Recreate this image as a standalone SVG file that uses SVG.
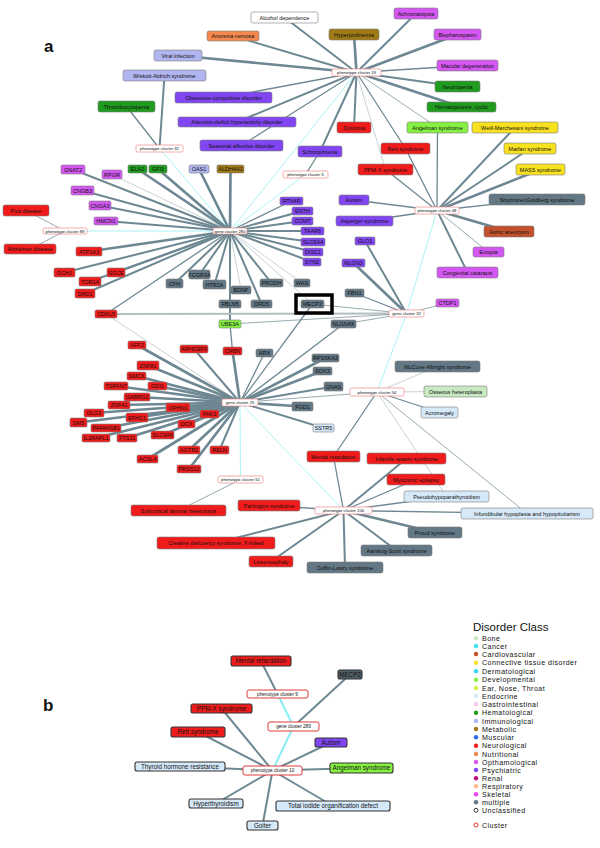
<svg xmlns="http://www.w3.org/2000/svg" width="600" height="848" viewBox="0 0 600 848">
<style>
text{font-family:"Liberation Sans",Arial,sans-serif;fill:#111}
.n rect{stroke:#7c7c7c;stroke-width:0.6}
.n text{font-size:5.5px;text-anchor:middle}
.k rect{fill:#fff;stroke:#ee8a8a;stroke-width:0.7}
.k text{font-size:4.2px;text-anchor:middle}
.b rect{stroke:#333;stroke-width:1.1}
.b text{font-size:6.3px;text-anchor:middle}
.bk rect{fill:#fff;stroke:#e03a3a;stroke-width:1}
.bk text{font-size:4.7px;text-anchor:middle}
.e{stroke:#6e8893;fill:none}
.l{stroke:#b2bec2;fill:none}
.c{stroke:#86eef2;fill:none}
.w1{stroke-width:0.7}.w2{stroke-width:1.3}.w3{stroke-width:2}.w4{stroke-width:2.7}
.neu{fill:#f01c1c}.psy{fill:#8146f2}.oph{fill:#d457f2}.hem{fill:#1f9c1f}.imm{fill:#b1b5f0}
.met{fill:#a07a15}.mul{fill:#637785}.dev{fill:#86f042}.con{fill:#f8e11e}.car{fill:#c4512d}
.nut{fill:#f4894f}.bon{fill:#cae9c2}.end{fill:#d6e9f8}.unc{fill:#fff}
.lg text{font-size:7.1px;letter-spacing:0.45px}
</style>
<rect width="600" height="848" fill="#fff"/>
<text x="44" y="52" style="font-size:17px;font-weight:bold">a</text>
<text x="43" y="711" style="font-size:17px;font-weight:bold">b</text>

<g id="connectors">
<line class="c w1" x1="356.5" y1="72.5" x2="230" y2="231"/>
<line class="c w1" x1="159.5" y1="148.5" x2="230" y2="231"/>
<line class="c w1" x1="65" y1="231" x2="230" y2="231"/>
<line class="c w1" x1="305.5" y1="174.5" x2="230" y2="231"/>
<line class="c w1" x1="437" y1="210.5" x2="406.5" y2="313.5"/>
<line class="c w1" x1="406.5" y1="313.5" x2="377" y2="392"/>
<line class="c w1" x1="240" y1="402.5" x2="240.5" y2="479.5"/>
<line class="c w1" x1="240" y1="402.5" x2="343.5" y2="510.5"/>
<line class="e w3" x1="356.5" y1="72.5" x2="284.5" y2="17.5"/>
<line class="e w3" x1="356.5" y1="72.5" x2="233" y2="36"/>
<line class="e w4" x1="356.5" y1="72.5" x2="178" y2="55.5"/>
<line class="e w2" x1="356.5" y1="72.5" x2="223.5" y2="97.5"/>
<line class="e w3" x1="356.5" y1="72.5" x2="237" y2="122"/>
<line class="e w2" x1="356.5" y1="72.5" x2="241.5" y2="145.5"/>
<line class="e w3" x1="356.5" y1="72.5" x2="416" y2="13.5"/>
<line class="e w4" x1="356.5" y1="72.5" x2="354" y2="34.5"/>
<line class="e w4" x1="356.5" y1="72.5" x2="457.5" y2="34.5"/>
<line class="e w2" x1="356.5" y1="72.5" x2="467.5" y2="65.5"/>
<line class="e w3" x1="356.5" y1="72.5" x2="457.5" y2="86.5"/>
<line class="e w4" x1="356.5" y1="72.5" x2="461.5" y2="107"/>
<line class="e w3" x1="356.5" y1="72.5" x2="354" y2="127.5"/>
<line class="e w1" x1="356.5" y1="72.5" x2="437.5" y2="127.5"/>
<line class="e w2" x1="356.5" y1="72.5" x2="405.5" y2="148.5"/>
<line class="l w1" x1="356.5" y1="72.5" x2="385.5" y2="169.5"/>
<line class="e w3" x1="356.5" y1="72.5" x2="320" y2="151.5"/>
<line class="e w3" x1="159.5" y1="148.5" x2="164.5" y2="75.5"/>
<line class="e w2" x1="159.5" y1="148.5" x2="126.5" y2="106.5"/>
<line class="e w1" x1="65" y1="231" x2="26" y2="210.5"/>
<line class="e w1" x1="65" y1="231" x2="30" y2="249"/>
<line class="e w2" x1="305.5" y1="174.5" x2="320" y2="151.5"/>
<line class="e w2" x1="437" y1="210.5" x2="405.5" y2="148.5"/>
<line class="e w2" x1="437" y1="210.5" x2="437.5" y2="127.5"/>
<line class="e w3" x1="437" y1="210.5" x2="515" y2="127.5"/>
<line class="e w3" x1="437" y1="210.5" x2="530" y2="148.5"/>
<line class="e w4" x1="437" y1="210.5" x2="540.5" y2="169.5"/>
<line class="e w2" x1="437" y1="210.5" x2="537" y2="199.5"/>
<line class="e w4" x1="437" y1="210.5" x2="509" y2="231.5"/>
<line class="e w1" x1="437" y1="210.5" x2="488.5" y2="252"/>
<line class="e w3" x1="437" y1="210.5" x2="467.5" y2="272.5"/>
<line class="e w2" x1="437" y1="210.5" x2="354" y2="200"/>
<line class="e w2" x1="437" y1="210.5" x2="364.5" y2="221"/>
<line class="e w2" x1="437" y1="210.5" x2="385.5" y2="169.5"/>
<line class="e w3" x1="230" y1="231" x2="73" y2="169.5"/>
<line class="l w1" x1="230" y1="231" x2="112" y2="174.5"/>
<line class="e w4" x1="230" y1="231" x2="137.5" y2="169"/>
<line class="e w4" x1="230" y1="231" x2="158" y2="169"/>
<line class="e w4" x1="230" y1="231" x2="199" y2="169"/>
<line class="e w4" x1="230" y1="231" x2="230.5" y2="169"/>
<line class="e w3" x1="230" y1="231" x2="82.5" y2="190.5"/>
<line class="e w3" x1="230" y1="231" x2="100" y2="205.5"/>
<line class="e w3" x1="230" y1="231" x2="106" y2="221"/>
<line class="e w4" x1="230" y1="231" x2="89" y2="251.5"/>
<line class="e w3" x1="230" y1="231" x2="64.5" y2="272.5"/>
<line class="e w3" x1="230" y1="231" x2="116" y2="272.5"/>
<line class="e w3" x1="230" y1="231" x2="90" y2="281.5"/>
<line class="e w3" x1="230" y1="231" x2="85" y2="293.5"/>
<line class="e w2" x1="230" y1="231" x2="106" y2="314"/>
<line class="e w3" x1="230" y1="231" x2="199.5" y2="274.5"/>
<line class="e w3" x1="230" y1="231" x2="174.5" y2="283.5"/>
<line class="e w3" x1="230" y1="231" x2="214.5" y2="284.5"/>
<line class="l w1" x1="230" y1="231" x2="241" y2="290"/>
<line class="e w3" x1="230" y1="231" x2="271.5" y2="283"/>
<line class="l w1" x1="230" y1="231" x2="302" y2="283"/>
<line class="e w3" x1="230" y1="231" x2="230" y2="324"/>
<line class="e w3" x1="230" y1="231" x2="261.5" y2="304"/>
<line class="l w1" x1="230" y1="231" x2="312.5" y2="304"/>
<line class="e w2" x1="230" y1="231" x2="291.5" y2="201"/>
<line class="e w3" x1="230" y1="231" x2="302.5" y2="211"/>
<line class="e w3" x1="230" y1="231" x2="302.5" y2="221"/>
<line class="e w3" x1="230" y1="231" x2="312.5" y2="231"/>
<line class="e w3" x1="230" y1="231" x2="313" y2="242"/>
<line class="e w3" x1="230" y1="231" x2="313" y2="252"/>
<line class="e w3" x1="230" y1="231" x2="312" y2="262"/>
<line class="l w3" x1="106" y1="314" x2="406.5" y2="313.5"/>
<line class="e w3" x1="406.5" y1="313.5" x2="365" y2="241"/>
<line class="e w4" x1="406.5" y1="313.5" x2="353.5" y2="263"/>
<line class="e w2" x1="406.5" y1="313.5" x2="354.5" y2="293"/>
<line class="e w1" x1="406.5" y1="313.5" x2="312.5" y2="304"/>
<line class="e w1" x1="406.5" y1="313.5" x2="230" y2="324"/>
<line class="e w1" x1="406.5" y1="313.5" x2="447.5" y2="303"/>
<line class="e w1" x1="406.5" y1="313.5" x2="343.5" y2="324"/>
<line class="e w2" x1="230" y1="324" x2="232.5" y2="351"/>
<line class="l w1" x1="106" y1="314" x2="240" y2="402.5"/>
<line class="e w4" x1="240" y1="402.5" x2="137" y2="345"/>
<line class="e w3" x1="240" y1="402.5" x2="194" y2="349"/>
<line class="e w4" x1="240" y1="402.5" x2="232.5" y2="351"/>
<line class="e w2" x1="240" y1="402.5" x2="264.5" y2="353"/>
<line class="e w4" x1="240" y1="402.5" x2="148" y2="365.5"/>
<line class="e w4" x1="240" y1="402.5" x2="136.5" y2="376"/>
<line class="e w4" x1="240" y1="402.5" x2="116" y2="386"/>
<line class="e w4" x1="240" y1="402.5" x2="157.5" y2="386"/>
<line class="e w4" x1="240" y1="402.5" x2="137" y2="397"/>
<line class="e w4" x1="240" y1="402.5" x2="119" y2="405"/>
<line class="e w4" x1="240" y1="402.5" x2="178" y2="407.5"/>
<line class="e w4" x1="240" y1="402.5" x2="94" y2="413"/>
<line class="e w4" x1="240" y1="402.5" x2="137" y2="417.5"/>
<line class="e w4" x1="240" y1="402.5" x2="209.5" y2="414"/>
<line class="e w4" x1="240" y1="402.5" x2="78.5" y2="422.5"/>
<line class="e w4" x1="240" y1="402.5" x2="106" y2="428"/>
<line class="e w4" x1="240" y1="402.5" x2="186.5" y2="424"/>
<line class="e w4" x1="240" y1="402.5" x2="96" y2="438"/>
<line class="e w4" x1="240" y1="402.5" x2="127" y2="438"/>
<line class="e w4" x1="240" y1="402.5" x2="162.5" y2="435"/>
<line class="e w4" x1="240" y1="402.5" x2="189" y2="450"/>
<line class="e w3" x1="240" y1="402.5" x2="219.5" y2="450"/>
<line class="e w4" x1="240" y1="402.5" x2="147.5" y2="459"/>
<line class="e w4" x1="240" y1="402.5" x2="189" y2="469"/>
<line class="e w4" x1="240" y1="402.5" x2="325.5" y2="358"/>
<line class="e w4" x1="240" y1="402.5" x2="322.5" y2="371"/>
<line class="e w3" x1="240" y1="402.5" x2="333.5" y2="386.5"/>
<line class="e w4" x1="240" y1="402.5" x2="302.5" y2="406.5"/>
<line class="e w3" x1="240" y1="402.5" x2="323.5" y2="428"/>
<line class="e w2" x1="240" y1="402.5" x2="312.5" y2="304"/>
<line class="e w2" x1="240" y1="402.5" x2="343.5" y2="324"/>
<line class="e w1" x1="240" y1="402.5" x2="377" y2="392"/>
<line class="l w1" x1="377" y1="392" x2="437.5" y2="366.5"/>
<line class="l w1" x1="377" y1="392" x2="455.5" y2="391.5"/>
<line class="e w2" x1="377" y1="392" x2="439.5" y2="412.5"/>
<line class="e w2" x1="377" y1="392" x2="333.5" y2="456.5"/>
<line class="l w1" x1="377" y1="392" x2="446.5" y2="496.5"/>
<line class="e w1" x1="377" y1="392" x2="527" y2="513.5"/>
<line class="e w2" x1="343.5" y1="510.5" x2="333.5" y2="456.5"/>
<line class="e w3" x1="343.5" y1="510.5" x2="406.5" y2="458.5"/>
<line class="e w2" x1="343.5" y1="510.5" x2="416" y2="479.5"/>
<line class="e w2" x1="343.5" y1="510.5" x2="446.5" y2="496.5"/>
<line class="e w2" x1="343.5" y1="510.5" x2="527" y2="513.5"/>
<line class="e w4" x1="343.5" y1="510.5" x2="435" y2="532.5"/>
<line class="e w3" x1="343.5" y1="510.5" x2="396.5" y2="550.5"/>
<line class="e w3" x1="343.5" y1="510.5" x2="345" y2="567.5"/>
<line class="e w3" x1="343.5" y1="510.5" x2="271" y2="561.5"/>
<line class="e w3" x1="343.5" y1="510.5" x2="216" y2="543"/>
<line class="e w2" x1="343.5" y1="510.5" x2="269" y2="505.5"/>
<line class="e w1" x1="240.5" y1="479.5" x2="178.5" y2="510.5"/>
<line class="e w3" x1="261" y1="661" x2="277.5" y2="694"/>
<line class="c w3" x1="277.5" y1="694" x2="293.5" y2="726.5"/>
<line class="e w3" x1="350" y1="674.5" x2="293.5" y2="726.5"/>
<line class="c w3" x1="293.5" y1="726.5" x2="272.5" y2="770.5"/>
<line class="e w3" x1="272.5" y1="770.5" x2="221.5" y2="708.5"/>
<line class="e w3" x1="272.5" y1="770.5" x2="198" y2="732"/>
<line class="e w3" x1="272.5" y1="770.5" x2="331" y2="742.5"/>
<line class="e w3" x1="272.5" y1="770.5" x2="180" y2="766.5"/>
<line class="e w3" x1="272.5" y1="770.5" x2="361.5" y2="768"/>
<line class="e w3" x1="272.5" y1="770.5" x2="216" y2="803.5"/>
<line class="e w3" x1="272.5" y1="770.5" x2="333" y2="806"/>
<line class="e w3" x1="272.5" y1="770.5" x2="262.5" y2="825.5"/>
</g>

<g id="n-alcohol" class="n"><rect class="unc" x="251" y="12" width="67" height="11" rx="2"/><text x="284.5" y="19.5">Alcohol dependence</text></g>
<g id="n-anorexia" class="n"><rect class="nut" x="207" y="31" width="52" height="10" rx="2"/><text x="233" y="38">Anorexia nervosa</text></g>
<g id="n-viral" class="n"><rect class="imm" x="154" y="50" width="48" height="11" rx="2"/><text x="178" y="57.5">Viral infection</text></g>
<g id="n-wiskott" class="n"><rect class="imm" x="123" y="70" width="83" height="11" rx="2"/><text x="164.5" y="77.5">Wiskott-Aldrich syndrome</text></g>
<g id="n-thrombo" class="n"><rect class="hem" x="98" y="101" width="57" height="11" rx="2"/><text x="126.5" y="108.5">Thrombocytopenia</text></g>
<g id="n-ocd" class="n"><rect class="psy" x="175" y="92" width="97" height="11" rx="2"/><text x="223.5" y="99.5">Obsessive-compulsive disorder</text></g>
<g id="n-adhd" class="n"><rect class="psy" x="178" y="117" width="118" height="10" rx="2"/><text x="237" y="124">Attention-deficit hyperactivity disorder</text></g>
<g id="n-sad" class="n"><rect class="psy" x="200" y="140" width="83" height="11" rx="2"/><text x="241.5" y="147.5">Seasonal affective disorder</text></g>
<g id="n-achro" class="n"><rect class="oph" x="394" y="8" width="44" height="11" rx="2"/><text x="416" y="15.5">Achromatopsia</text></g>
<g id="n-hyperpro" class="n"><rect class="met" x="329" y="29" width="50" height="11" rx="2"/><text x="354" y="36.5">Hyperprolinemia</text></g>
<g id="n-bleph" class="n"><rect class="oph" x="434" y="29" width="47" height="11" rx="2"/><text x="457.5" y="36.5">Blepharospasm</text></g>
<g id="n-macular" class="n"><rect class="oph" x="437" y="60" width="61" height="11" rx="2"/><text x="467.5" y="67.5">Macular degeneration</text></g>
<g id="n-neutro" class="n"><rect class="hem" x="435" y="81" width="45" height="11" rx="2"/><text x="457.5" y="88.5">Neutropenia</text></g>
<g id="n-hemato" class="n"><rect class="hem" x="427" y="102" width="69" height="10" rx="2"/><text x="461.5" y="109">Hematopoiesis, cyclic</text></g>
<g id="n-dystonia" class="n"><rect class="neu" x="337" y="122" width="34" height="11" rx="2"/><text x="354" y="129.5">Dystonia</text></g>
<g id="n-angelman" class="n"><rect class="dev" x="407" y="122" width="61" height="11" rx="2"/><text x="437.5" y="129.5">Angelman syndrome</text></g>
<g id="n-weill" class="n"><rect class="con" x="472" y="122" width="86" height="11" rx="2"/><text x="515" y="129.5">Weill-Marchesani syndrome</text></g>
<g id="n-rett" class="n"><rect class="neu" x="381" y="143" width="49" height="11" rx="2"/><text x="405.5" y="150.5">Rett syndrome</text></g>
<g id="n-marfan" class="n"><rect class="con" x="504" y="143" width="52" height="11" rx="2"/><text x="530" y="150.5">Marfan syndrome</text></g>
<g id="n-schizo" class="n"><rect class="psy" x="298" y="146" width="44" height="11" rx="2"/><text x="320" y="153.5">Schizophrenia</text></g>
<g id="n-ppmx" class="n"><rect class="neu" x="358" y="164" width="55" height="11" rx="2"/><text x="385.5" y="171.5">PPM-X syndrome</text></g>
<g id="n-mass" class="n"><rect class="con" x="516" y="164" width="49" height="11" rx="2"/><text x="540.5" y="171.5">MASS syndrome</text></g>
<g id="n-autism" class="n"><rect class="psy" x="339" y="195" width="30" height="10" rx="2"/><text x="354" y="202">Autism</text></g>
<g id="n-asperger" class="n"><rect class="psy" x="336" y="216" width="57" height="10" rx="2"/><text x="364.5" y="223">Asperger syndrome</text></g>
<g id="n-shprintzen" class="n"><rect class="mul" x="489" y="194" width="96" height="11" rx="2"/><text x="537" y="201.5">ShprintzenGoldberg syndrome</text></g>
<g id="n-aortic" class="n"><rect class="car" x="484" y="226" width="50" height="11" rx="2"/><text x="509" y="233.5">Aortic aneurysm</text></g>
<g id="n-ectopia" class="n"><rect class="oph" x="473" y="247" width="31" height="10" rx="2"/><text x="488.5" y="254">Ectopia</text></g>
<g id="n-cataracts" class="n"><rect class="oph" x="437" y="267" width="61" height="11" rx="2"/><text x="467.5" y="274.5">Congenital cataracts</text></g>
<g id="n-pick" class="n"><rect class="neu" x="3" y="205" width="46" height="11" rx="2"/><text x="26" y="212.5">Pick disease</text></g>
<g id="n-alzheimer" class="n"><rect class="neu" x="4" y="244" width="52" height="10" rx="2"/><text x="30" y="251">Alzheimer disease</text></g>
<g id="n-mccune" class="n"><rect class="mul" x="395" y="361" width="85" height="11" rx="2"/><text x="437.5" y="368.5">McCune-Albright syndrome</text></g>
<g id="n-osseous" class="n"><rect class="bon" x="424" y="386" width="63" height="11" rx="2"/><text x="455.5" y="393.5">Osseous heteroplasia</text></g>
<g id="n-acromegaly" class="n"><rect class="end" x="421" y="407" width="37" height="11" rx="2"/><text x="439.5" y="414.5">Acromegaly</text></g>
<g id="n-mr" class="n"><rect class="neu" x="307" y="451" width="53" height="11" rx="2"/><text x="333.5" y="458.5">Mental retardation</text></g>
<g id="n-infantile" class="n"><rect class="neu" x="367" y="453" width="79" height="11" rx="2"/><text x="406.5" y="460.5">Infantile spasm syndrome</text></g>
<g id="n-myoclonic" class="n"><rect class="neu" x="387" y="474" width="58" height="11" rx="2"/><text x="416" y="481.5">Myoclonic epilepsy</text></g>
<g id="n-pseudo" class="n"><rect class="end" x="404" y="491" width="85" height="11" rx="2"/><text x="446.5" y="498.5">Pseudohypoparathyroidism</text></g>
<g id="n-infund" class="n"><rect class="end" x="461" y="508" width="132" height="11" rx="2"/><text x="527" y="515.5">Infundibular hypoplasia and hypopituitarism</text></g>
<g id="n-proud" class="n"><rect class="mul" x="408" y="527" width="54" height="11" rx="2"/><text x="435" y="534.5">Proud syndrome</text></g>
<g id="n-aarskog" class="n"><rect class="mul" x="361" y="545" width="71" height="11" rx="2"/><text x="396.5" y="552.5">Aarskog-Scott syndrome</text></g>
<g id="n-coffin" class="n"><rect class="mul" x="307" y="562" width="76" height="11" rx="2"/><text x="345" y="569.5">Coffin-Lowry syndrome</text></g>
<g id="n-subcortical" class="n"><rect class="neu" x="131" y="505" width="95" height="11" rx="2"/><text x="178.5" y="512.5">Subcortical laminar heterotopia</text></g>
<g id="n-partington" class="n"><rect class="neu" x="238" y="500" width="62" height="11" rx="2"/><text x="269" y="507.5">Partington syndrome</text></g>
<g id="n-creatine" class="n"><rect class="neu" x="157" y="537" width="118" height="12" rx="2"/><text x="216" y="545">Creatine deficiency syndrome, X-linked</text></g>
<g id="n-lissen" class="n"><rect class="neu" x="249" y="556" width="44" height="11" rx="2"/><text x="271" y="563.5">Lissencephaly</text></g>

<g id="pc19" class="k"><rect x="332" y="69" width="49" height="7" rx="1.5"/><text x="356.5" y="74">phenotype cluster 19</text></g>
<g id="pc32" class="k"><rect x="136" y="145" width="47" height="7" rx="1.5"/><text x="159.5" y="150">phenotype cluster 32</text></g>
<g id="pc5" class="k"><rect x="283" y="171" width="45" height="7" rx="1.5"/><text x="305.5" y="176">phenotype cluster 5</text></g>
<g id="pc48" class="k"><rect x="415" y="207" width="44" height="7" rx="1.5"/><text x="437" y="212">phenotype cluster 48</text></g>
<g id="pc89" class="k"><rect x="43" y="228" width="44" height="6" rx="1.5"/><text x="65" y="232.5">phenotype cluster 89</text></g>
<g id="gc280" class="k"><rect x="213" y="228" width="34" height="6" rx="1.5"/><text x="230" y="232.5">gene cluster 280</text></g>
<g id="gc32" class="k"><rect x="389" y="310" width="35" height="7" rx="1.5"/><text x="406.5" y="315">gene cluster 32</text></g>
<g id="gc25" class="k"><rect x="222" y="399" width="36" height="7" rx="1.5"/><text x="240" y="404">gene cluster 25</text></g>
<g id="pc54" class="k"><rect x="350" y="388" width="54" height="8" rx="1.5"/><text x="377" y="393.5">phenotype cluster 54</text></g>
<g id="pc51" class="k"><rect x="218" y="476" width="45" height="7" rx="1.5"/><text x="240.5" y="481">phenotype cluster 51</text></g>
<g id="pc106" class="k"><rect x="315" y="507" width="57" height="7" rx="1.5"/><text x="343.5" y="512">phenotype cluster 106</text></g>

<g id="g-GNAT2" class="n"><rect class="oph" x="61" y="165" width="24" height="9" rx="1.5"/><text x="73" y="171.5">GNAT2</text></g>
<g id="g-RPGR" class="n"><rect class="oph" x="102" y="170" width="20" height="9" rx="1.5"/><text x="112" y="176.5">RPGR</text></g>
<g id="g-ELA2" class="n"><rect class="hem" x="128" y="165" width="19" height="8" rx="1.5"/><text x="137.5" y="171">ELA2</text></g>
<g id="g-GFI1" class="n"><rect class="hem" x="149" y="165" width="18" height="8" rx="1.5"/><text x="158" y="171">GFI1</text></g>
<g id="g-OAS1" class="n"><rect class="imm" x="189" y="165" width="20" height="8" rx="1.5"/><text x="199" y="171">OAS1</text></g>
<g id="g-ALDH4A1" class="n"><rect class="met" x="217" y="165" width="27" height="8" rx="1.5"/><text x="230.5" y="171">ALDH4A1</text></g>
<g id="g-CNGB3" class="n"><rect class="oph" x="71" y="186" width="23" height="9" rx="1.5"/><text x="82.5" y="192.5">CNGB3</text></g>
<g id="g-CNGA3" class="n"><rect class="oph" x="89" y="201" width="22" height="9" rx="1.5"/><text x="100" y="207.5">CNGA3</text></g>
<g id="g-HMCN1" class="n"><rect class="oph" x="94" y="217" width="24" height="8" rx="1.5"/><text x="106" y="223">HMCN1</text></g>
<g id="g-ATP1A3" class="n"><rect class="neu" x="76" y="247" width="26" height="9" rx="1.5"/><text x="89" y="253.5">ATP1A3</text></g>
<g id="g-GCH1" class="n"><rect class="neu" x="54" y="268" width="21" height="9" rx="1.5"/><text x="64.5" y="274.5">GCH1</text></g>
<g id="g-SGCE" class="n"><rect class="neu" x="107" y="268" width="18" height="9" rx="1.5"/><text x="116" y="274.5">SGCE</text></g>
<g id="g-TOR1A" class="n"><rect class="neu" x="79" y="277" width="22" height="9" rx="1.5"/><text x="90" y="283.5">TOR1A</text></g>
<g id="g-DRD2" class="n"><rect class="neu" x="75" y="289" width="20" height="9" rx="1.5"/><text x="85" y="295.5">DRD2</text></g>
<g id="g-FCGR3A" class="n"><rect class="mul" x="189" y="270" width="21" height="9" rx="1.5"/><text x="199.5" y="276.5">FCGR3A</text></g>
<g id="g-CFH" class="n"><rect class="mul" x="166" y="279" width="17" height="9" rx="1.5"/><text x="174.5" y="285.5">CFH</text></g>
<g id="g-HTR2A" class="n"><rect class="mul" x="203" y="280" width="23" height="9" rx="1.5"/><text x="214.5" y="286.5">HTR2A</text></g>
<g id="g-BDNF" class="n"><rect class="mul" x="231" y="286" width="20" height="8" rx="1.5"/><text x="241" y="292">BDNF</text></g>
<g id="g-PRODH" class="n"><rect class="mul" x="260" y="279" width="23" height="8" rx="1.5"/><text x="271.5" y="285">PRODH</text></g>
<g id="g-WAS" class="n"><rect class="mul" x="294" y="279" width="16" height="8" rx="1.5"/><text x="302" y="285">WAS</text></g>
<g id="g-FBLN5" class="n"><rect class="mul" x="219" y="300" width="22" height="8" rx="1.5"/><text x="230" y="306">FBLN5</text></g>
<g id="g-DRD5" class="n"><rect class="mul" x="251" y="300" width="21" height="8" rx="1.5"/><text x="261.5" y="306">DRD5</text></g>
<g id="g-MECP2" class="n"><rect class="mul" x="301" y="300" width="23" height="8" rx="1.5"/><text x="312.5" y="306">MECP2</text></g>
<rect x="296" y="295" width="36" height="18" fill="none" stroke="#000" stroke-width="3.5"/>
<g id="g-RTN4R" class="n"><rect class="psy" x="280" y="197" width="23" height="8" rx="1.5"/><text x="291.5" y="203">RTN4R</text></g>
<g id="g-ENTH" class="n"><rect class="psy" x="292" y="207" width="21" height="8" rx="1.5"/><text x="302.5" y="213">ENTH</text></g>
<g id="g-COMT" class="n"><rect class="psy" x="292" y="217" width="21" height="8" rx="1.5"/><text x="302.5" y="223">COMT</text></g>
<g id="g-TAAR6" class="n"><rect class="psy" x="301" y="227" width="23" height="8" rx="1.5"/><text x="312.5" y="233">TAAR6</text></g>
<g id="g-SLC6A4" class="n"><rect class="psy" x="301" y="238" width="24" height="8" rx="1.5"/><text x="313" y="244">SLC6A4</text></g>
<g id="g-DISC1" class="n"><rect class="psy" x="303" y="248" width="20" height="8" rx="1.5"/><text x="313" y="254">DISC1</text></g>
<g id="g-SYN2" class="n"><rect class="psy" x="303" y="258" width="18" height="8" rx="1.5"/><text x="312" y="264">SYN2</text></g>
<g id="g-GLO1" class="n"><rect class="psy" x="355" y="237" width="20" height="8" rx="1.5"/><text x="365" y="243">GLO1</text></g>
<g id="g-NLGN3" class="n"><rect class="psy" x="342" y="259" width="23" height="8" rx="1.5"/><text x="353.5" y="265">NLGN3</text></g>
<g id="g-FBN1" class="n"><rect class="mul" x="345" y="289" width="19" height="8" rx="1.5"/><text x="354.5" y="295">FBN1</text></g>
<g id="g-CTDP1" class="n"><rect class="oph" x="436" y="299" width="23" height="8" rx="1.5"/><text x="447.5" y="305">CTDP1</text></g>
<g id="g-CDKL5" class="n"><rect class="neu" x="95" y="310" width="22" height="8" rx="1.5"/><text x="106" y="316">CDKL5</text></g>
<g id="g-UBE3A" class="n"><rect class="dev" x="219" y="320" width="22" height="8" rx="1.5"/><text x="230" y="326">UBE3A</text></g>
<g id="g-NLGN4X" class="n"><rect class="mul" x="331" y="320" width="25" height="8" rx="1.5"/><text x="343.5" y="326">NLGN4X</text></g>
<g id="g-AFF2" class="n"><rect class="neu" x="128" y="341" width="18" height="8" rx="1.5"/><text x="137" y="347">AFF2</text></g>
<g id="g-ARHGEF6" class="n"><rect class="neu" x="180" y="345" width="28" height="8" rx="1.5"/><text x="194" y="351">ARHGEF6</text></g>
<g id="g-CRBN" class="n"><rect class="neu" x="223" y="347" width="19" height="8" rx="1.5"/><text x="232.5" y="353">CRBN</text></g>
<g id="g-ARX" class="n"><rect class="mul" x="256" y="349" width="17" height="8" rx="1.5"/><text x="264.5" y="355">ARX</text></g>
<g id="g-RPS6KA3" class="n"><rect class="mul" x="312" y="354" width="27" height="8" rx="1.5"/><text x="325.5" y="360">RPS6KA3</text></g>
<g id="g-SOX3" class="n"><rect class="mul" x="313" y="367" width="19" height="8" rx="1.5"/><text x="322.5" y="373">SOX3</text></g>
<g id="g-GNAS" class="n"><rect class="mul" x="324" y="382" width="19" height="9" rx="1.5"/><text x="333.5" y="388.5">GNAS</text></g>
<g id="g-FGD1" class="n"><rect class="mul" x="292" y="402" width="21" height="9" rx="1.5"/><text x="302.5" y="408.5">FGD1</text></g>
<g id="g-SSTR5" class="n"><rect class="end" x="313" y="424" width="21" height="8" rx="1.5"/><text x="323.5" y="430">SSTR5</text></g>
<g id="g-ZNF81" class="n"><rect class="neu" x="137" y="361" width="22" height="9" rx="1.5"/><text x="148" y="367.5">ZNF81</text></g>
<g id="g-SMCX" class="n"><rect class="neu" x="127" y="372" width="19" height="8" rx="1.5"/><text x="136.5" y="378">SMCX</text></g>
<g id="g-TSPAN7" class="n"><rect class="neu" x="104" y="382" width="24" height="8" rx="1.5"/><text x="116" y="388">TSPAN7</text></g>
<g id="g-GDI1" class="n"><rect class="neu" x="148" y="382" width="19" height="8" rx="1.5"/><text x="157.5" y="388">GDI1</text></g>
<g id="g-GABRG2" class="n"><rect class="neu" x="124" y="393" width="26" height="8" rx="1.5"/><text x="137" y="399">GABRG2</text></g>
<g id="g-ZNF41" class="n"><rect class="neu" x="108" y="401" width="22" height="8" rx="1.5"/><text x="119" y="407">ZNF41</text></g>
<g id="g-OPHN1" class="n"><rect class="neu" x="166" y="403" width="24" height="9" rx="1.5"/><text x="178" y="409.5">OPHN1</text></g>
<g id="g-DLG3" class="n"><rect class="neu" x="84" y="409" width="20" height="8" rx="1.5"/><text x="94" y="415">DLG3</text></g>
<g id="g-EFHC1" class="n"><rect class="neu" x="126" y="413" width="22" height="9" rx="1.5"/><text x="137" y="419.5">EFHC1</text></g>
<g id="g-PAK3" class="n"><rect class="neu" x="200" y="410" width="19" height="8" rx="1.5"/><text x="209.5" y="416">PAK3</text></g>
<g id="g-SMS" class="n"><rect class="neu" x="70" y="418" width="17" height="9" rx="1.5"/><text x="78.5" y="424.5">SMS</text></g>
<g id="g-PAFAH1B1" class="n"><rect class="neu" x="91" y="424" width="30" height="8" rx="1.5"/><text x="106" y="430">PAFAH1B1</text></g>
<g id="g-DCX" class="n"><rect class="neu" x="178" y="420" width="17" height="8" rx="1.5"/><text x="186.5" y="426">DCX</text></g>
<g id="g-IL1RAPL1" class="n"><rect class="neu" x="82" y="434" width="28" height="8" rx="1.5"/><text x="96" y="440">IL1RAPL1</text></g>
<g id="g-FTSJ1" class="n"><rect class="neu" x="117" y="434" width="20" height="8" rx="1.5"/><text x="127" y="440">FTSJ1</text></g>
<g id="g-SLC9A6" class="n"><rect class="neu" x="151" y="431" width="23" height="8" rx="1.5"/><text x="162.5" y="437">SLC9A6</text></g>
<g id="g-AGTR2" class="n"><rect class="neu" x="178" y="446" width="22" height="8" rx="1.5"/><text x="189" y="452">AGTR2</text></g>
<g id="g-RELN" class="n"><rect class="neu" x="210" y="446" width="19" height="8" rx="1.5"/><text x="219.5" y="452">RELN</text></g>
<g id="g-ACSL4" class="n"><rect class="neu" x="137" y="455" width="21" height="8" rx="1.5"/><text x="147.5" y="461">ACSL4</text></g>
<g id="g-PRSS12" class="n"><rect class="neu" x="177" y="465" width="24" height="8" rx="1.5"/><text x="189" y="471">PRSS12</text></g>

<g id="b-mr" class="b"><rect class="neu" x="231" y="656" width="60" height="10" rx="2"/><text x="261" y="663.3">Mental retardation</text></g>
<g id="b-mecp2" class="b"><rect fill="#506068" x="338" y="670" width="24" height="9" rx="2"/><text x="350" y="676.8">MECP2</text></g>
<g id="b-pc9" class="bk"><rect x="247" y="690" width="61" height="8" rx="2"/><text x="277.5" y="695.7">phenotype cluster 9</text></g>
<g id="b-ppmx" class="b"><rect class="neu" x="191" y="704" width="61" height="9" rx="2"/><text x="221.5" y="710.8">PPM-X syndrome</text></g>
<g id="b-gc289" class="bk"><rect x="268" y="722" width="51" height="9" rx="2"/><text x="293.5" y="728.2">gene cluster 289</text></g>
<g id="b-rett" class="b"><rect class="neu" x="171" y="727" width="54" height="10" rx="2"/><text x="198" y="734.3">Rett syndrome</text></g>
<g id="b-autism" class="b"><rect class="psy" x="315" y="738" width="32" height="9" rx="2"/><text x="331" y="744.8">Autism</text></g>
<g id="b-thyroid" class="b"><rect class="end" x="135" y="762" width="90" height="9" rx="2"/><text x="180" y="768.8">Thyroid hormone resistance</text></g>
<g id="b-pc10" class="bk"><rect x="243" y="766" width="59" height="9" rx="2"/><text x="272.5" y="772.2">phenotype cluster 10</text></g>
<g id="b-angelman" class="b"><rect class="dev" x="330" y="763" width="63" height="10" rx="2"/><text x="361.5" y="770.3">Angelman syndrome</text></g>
<g id="b-hyper" class="b"><rect class="end" x="189" y="799" width="54" height="9" rx="2"/><text x="216" y="805.8">Hyperthyroidism</text></g>
<g id="b-total" class="b"><rect class="end" x="276" y="801" width="114" height="10" rx="2"/><text x="333" y="808.3">Total iodide organification defect</text></g>
<g id="b-goiter" class="b"><rect class="end" x="247" y="821" width="31" height="9" rx="2"/><text x="262.5" y="827.8">Goiter</text></g>

<g id="legend" class="lg">
<text x="473" y="631" style="font-size:11.5px;letter-spacing:0">Disorder Class</text>
<circle cx="476" cy="638.3" r="2.2" fill="#cae9c2"/><text x="482" y="640.8">Bone</text>
<circle cx="476" cy="646" r="2.2" fill="#3fe3f2"/><text x="482" y="648.5">Cancer</text>
<circle cx="476" cy="654" r="2.2" fill="#c4512d"/><text x="482" y="656.5">Cardiovascular</text>
<circle cx="476" cy="662.7" r="2.2" fill="#f8e11e"/><text x="482" y="665.2">Connective tissue disorder</text>
<circle cx="476" cy="671.3" r="2.2" fill="#3fd6f2"/><text x="482" y="673.8">Dermatological</text>
<circle cx="476" cy="679.7" r="2.2" fill="#86f042"/><text x="482" y="682.2">Developmental</text>
<circle cx="476" cy="688" r="2.2" fill="#d2f042"/><text x="482" y="690.5">Ear, Nose, Throat</text>
<circle cx="476" cy="696" r="2.2" fill="#d6e9f8"/><text x="482" y="698.5">Endocrine</text>
<circle cx="476" cy="704.3" r="2.2" fill="#f8c8e8"/><text x="482" y="706.8">Gastrointestinal</text>
<circle cx="476" cy="712.7" r="2.2" fill="#1f9c1f"/><text x="482" y="715.2">Hematological</text>
<circle cx="476" cy="721" r="2.2" fill="#b1b5f0"/><text x="482" y="723.5">Immunological</text>
<circle cx="476" cy="729" r="2.2" fill="#a07a15"/><text x="482" y="731.5">Metabolic</text>
<circle cx="476" cy="737.3" r="2.2" fill="#2f70f0"/><text x="482" y="739.8">Muscular</text>
<circle cx="476" cy="745.7" r="2.2" fill="#f01c1c"/><text x="482" y="748.2">Neurological</text>
<circle cx="476" cy="754" r="2.2" fill="#f4894f"/><text x="482" y="756.5">Nutritional</text>
<circle cx="476" cy="762" r="2.2" fill="#d457f2"/><text x="482" y="764.5">Opthamological</text>
<circle cx="476" cy="770" r="2.2" fill="#8146f2"/><text x="482" y="772.5">Psychiatric</text>
<circle cx="476" cy="778.3" r="2.2" fill="#c0127c"/><text x="482" y="780.8">Renal</text>
<circle cx="476" cy="786.3" r="2.2" fill="#f8b890"/><text x="482" y="788.8">Respiratory</text>
<circle cx="476" cy="794.3" r="2.2" fill="#f042f0"/><text x="482" y="796.8">Skeletal</text>
<circle cx="476" cy="802.3" r="2.2" fill="#637785"/><text x="482" y="804.8">multiple</text>
<circle cx="476" cy="810.3" r="2" fill="#fff" stroke="#222" stroke-width="0.9"/><text x="482" y="812.8">Unclassified</text>
<circle cx="476" cy="825" r="2" fill="#fff" stroke="#e02020" stroke-width="0.9"/><text x="482" y="827.5">Cluster</text>
</g>
</svg>
